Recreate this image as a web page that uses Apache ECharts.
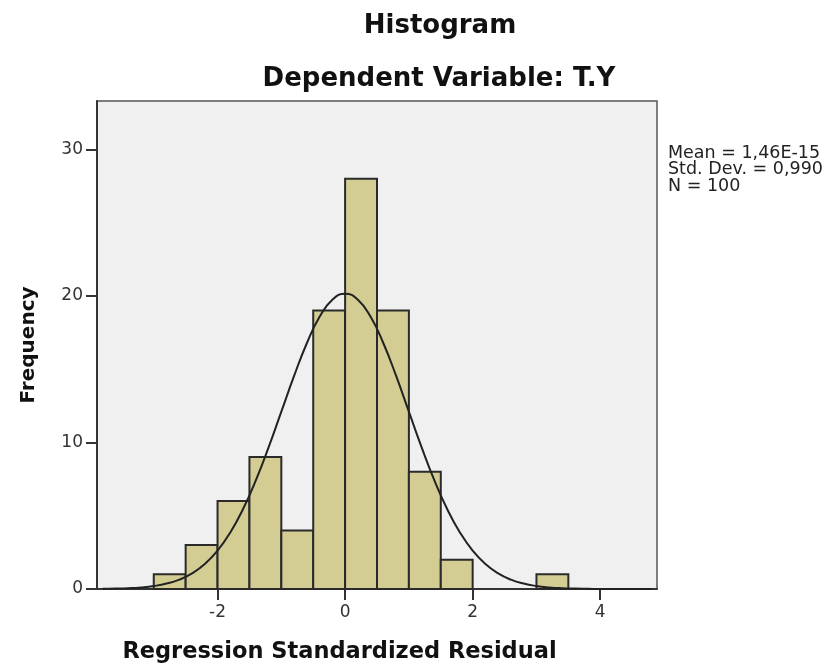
<!DOCTYPE html>
<html>
<head>
<meta charset="utf-8">
<script src="https://cdn.jsdelivr.net/npm/echarts@6/dist/echarts.min.js"></script>
<style>
html,body{margin:0;padding:0;background:#fff;}
#chart{width:837px;height:671px;}
</style>
</head>
<body>
<div id="chart"></div>
<script>
// Histogram bins (bin start, bin end) and frequencies
var binStarts = [-3.0, -2.5, -2.0, -1.5, -1.0, -0.5, 0.0, 0.5, 1.0, 1.5, 2.0, 2.5, 3.0];
var binEnds   = [-2.5, -2.0, -1.5, -1.0, -0.5, 0.0, 0.5, 1.0, 1.5, 2.0, 2.5, 3.0, 3.5];
var counts    = [1, 3, 6, 9, 4, 19, 28, 19, 8, 2, 0, 0, 1];

// Fitted normal curve points (mean ~0, sd 0.990, N=100, bin width 0.5)
var curveX = [-3.8,-3.6,-3.4,-3.2,-3.0,-2.8,-2.6,-2.4,-2.2,-2.0,-1.8,-1.6,-1.4,-1.2,-1.0,-0.8,-0.6,-0.4,-0.2,0.0,
              0.2,0.4,0.6,0.8,1.0,1.2,1.4,1.6,1.8,2.0,2.2,2.4,2.6,2.8,3.0,3.2,3.4,3.6,3.8,4.0,4.2,4.4,4.6,4.8];
var curveY = [0.013,0.027,0.055,0.109,0.204,0.369,0.640,1.067,1.706,2.618,3.859,5.459,7.413,9.666,12.098,14.537,16.77,18.57,19.74,20.15,
              19.74,18.57,16.77,14.537,12.098,9.666,7.413,5.459,3.859,2.618,1.706,1.067,0.640,0.369,0.204,0.109,0.055,0.027,0.013,0.006,0.0025,0.001,0.0004,0.0001];

var xTicks = [-2, 0, 2, 4];
var yTicks = [0, 10, 20, 30];

var titleText = 'Histogram';
var subtitleText = 'Dependent Variable: T.Y';
var xName = 'Regression Standardized Residual';
var yName = 'Frequency';
var statsLines = ['Mean = 1,46E-15', 'Std. Dev. = 0,990', 'N = 100'];

var barData = binStarts.map(function (s, i) { return [s, binEnds[i], counts[i]]; });
var curveData = curveX.map(function (x, i) { return [x, curveY[i]]; });

var chart = echarts.init(document.getElementById('chart'));
var axisColor = '#333';
var font = 'DejaVu Sans';

chart.setOption({
  animation: false,
  backgroundColor: '#ffffff',
  title: [
    { text: titleText, left: 435, top: 8, textAlign: 'center',
      textStyle: { fontFamily: font, fontWeight: 'bold', fontSize: 26, color: '#111' } },
    { text: subtitleText, left: 434, top: 61, textAlign: 'center',
      textStyle: { fontFamily: font, fontWeight: 'bold', fontSize: 26, color: '#111' } }
  ],
  grid: {
    left: 97, top: 101, right: 180, bottom: 82,
    show: true, backgroundColor: '#f0f0f0', borderColor: '#555', borderWidth: 1.5
  },
  xAxis: {
    type: 'value', min: -3.89, max: 4.89,
    name: xName, nameLocation: 'middle', nameGap: 52,
    nameTextStyle: { fontFamily: font, fontWeight: 'bold', fontSize: 22.5, color: '#111', padding: [0, 75, 0, 0] },
    axisLine: { show: true, onZero: false, lineStyle: { color: axisColor, width: 2 } },
    axisTick: { show: true, length: 11, inside: false, customValues: xTicks, lineStyle: { color: axisColor, width: 2 } },
    axisLabel: { customValues: xTicks, margin: 15, fontFamily: font, fontSize: 17, color: '#333' },
    splitLine: { show: false }
  },
  yAxis: {
    type: 'value', min: 0, max: 33.3,
    name: yName, nameLocation: 'middle', nameGap: 58, nameRotate: 90,
    nameTextStyle: { fontFamily: font, fontWeight: 'bold', fontSize: 20, color: '#111' },
    axisLine: { show: true, onZero: false, lineStyle: { color: axisColor, width: 2 } },
    axisTick: { show: true, length: 11, inside: false, customValues: yTicks, lineStyle: { color: axisColor, width: 2 } },
    axisLabel: { customValues: yTicks, margin: 14, fontFamily: font, fontSize: 17, color: '#333' },
    splitLine: { show: false }
  },
  graphic: [
    { type: 'text', left: 668, top: 144, z: 10,
      style: { text: statsLines.join('\n'), fontFamily: font, fontSize: 17.5, lineHeight: 16.5, fill: '#222' } }
  ],
  series: [
    {
      type: 'custom',
      data: barData,
      encode: { x: [0, 1], y: 2 },
      renderItem: function (params, api) {
        var h = api.value(2);
        if (!h) return null;
        var p0 = api.coord([api.value(0), h]);
        var p1 = api.coord([api.value(1), 0]);
        return {
          type: 'rect',
          shape: { x: p0[0], y: p0[1], width: p1[0] - p0[0], height: p1[1] - p0[1] },
          style: { fill: '#d3cd94', stroke: '#2a2a2a', lineWidth: 2 }
        };
      },
      z: 2
    },
    {
      type: 'line',
      data: curveData,
      smooth: true,
      showSymbol: false,
      lineStyle: { color: '#222', width: 2 },
      z: 3
    }
  ]
});
</script>
</body>
</html>
